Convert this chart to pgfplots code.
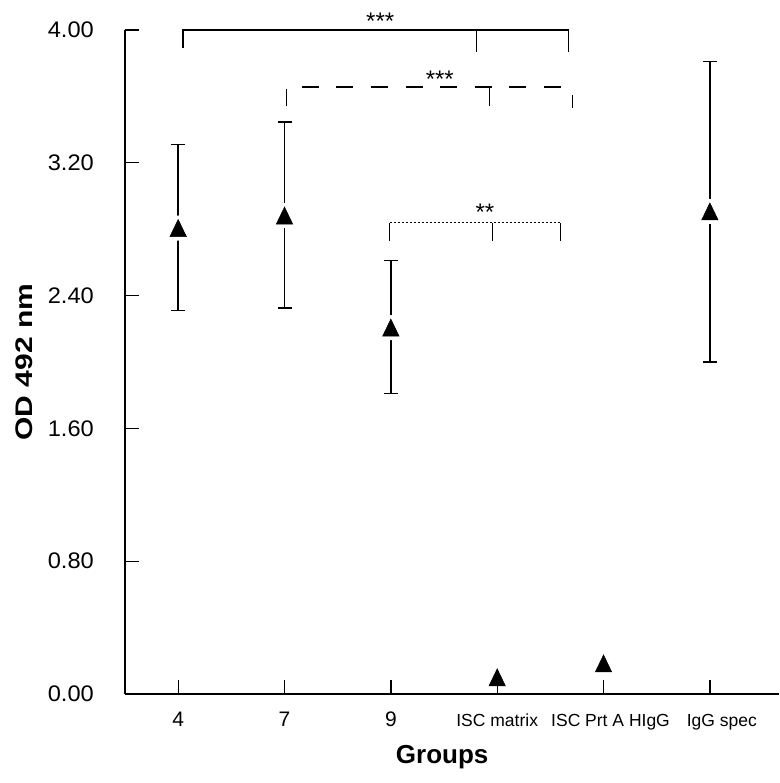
\documentclass[border=0pt]{standalone}
\usepackage{pgfplots}
\pgfplotsset{compat=1.18}
\usepackage{pgfplotstable}
\usepackage{fontspec}
\setmainfont{Liberation Sans}
\newfontfamily\ytickfont[FakeStretch=1.05]{Liberation Sans}
\newfontfamily\ylabfont[FakeStretch=1.25]{Liberation Sans}

\pgfplotstableread{
x y ep em
0 2.79 0.52 0.48
1 2.865 0.58 0.54
2 2.19 0.42 0.38
5 2.89 0.92 0.89
}\errtable
\pgfplotstableread{
x y
3 0.083
4 0.167
}\lowtable

\begin{document}
\begin{tikzpicture}
\begin{axis}[
  scale only axis, width=654bp, height=664bp,
  xmin=-0.5, xmax=5.65, ymin=0, ymax=4,
  axis lines*=left,
  axis line style={line width=1.3bp, black},
  every tick/.style={black, line width=1.3bp},
  major tick length=14bp, tick align=inside,
  xtick={0,1,2,3,4,5},
  xticklabels={{\fontsize{21bp}{21bp}\selectfont 4},
               {\fontsize{21bp}{21bp}\selectfont 7},
               {\fontsize{21bp}{21bp}\selectfont 9},
               {ISC matrix}, {\hspace*{14bp}ISC Prt A HIgG}, {\hspace*{24bp}IgG spec}},
  xticklabel style={font=\fontsize{17.5bp}{17.5bp}\selectfont, anchor=base, yshift=-32bp, inner sep=0pt},
  ytick={0,0.8,1.6,2.4,3.2,4.0},
  yticklabels={0.00,0.80,1.60,2.40,3.20,4.00},
  yticklabel style={font=\ytickfont\fontsize{22.5bp}{22.5bp}\selectfont, anchor=east, xshift=-31bp, inner sep=0pt},
  xlabel={Groups},
  xlabel style={font=\fontsize{26bp}{26bp}\selectfont\bfseries, at={([yshift=-69bp]axis description cs:0.485,0)}, anchor=base},
  ylabel={OD 492 nm},
  ylabel style={font=\ylabfont\fontsize{24bp}{24bp}\selectfont\bfseries, at={([xshift=-92bp]axis description cs:0,0.5)}, anchor=base, rotate=0},
  clip=false,
]
% error bars
\addplot[only marks, mark=none, error bars/.cd, y dir=both, y explicit,
  error bar style={draw=black, solid, line width=1.4bp},
  error mark options={rotate=90, mark size=7bp, line width=1.4bp, draw=black}]
  table[x=x, y=y, y error plus=ep, y error minus=em] {\errtable};
% white halo around markers
\addplot[only marks, mark=triangle*, mark size=9.5bp,
  mark options={yscale=1.2, fill=white, draw=white, line width=8bp, line join=round}]
  table[x=x, y=y] {\errtable};
% markers
\addplot[only marks, mark=triangle*, mark size=9.5bp,
  mark options={yscale=1.2, fill=black, draw=black, line width=0.5bp}]
  table[x=x, y=y] {\errtable};
\addplot[only marks, mark=triangle*, mark size=9.5bp,
  mark options={yscale=1.2, fill=black, draw=black, line width=0.5bp}]
  table[x=x, y=y] {\lowtable};

% solid bracket
\draw[line width=1.4bp] (axis cs:0.045,3.89) -- (axis cs:0.045,4.0) -- (axis cs:3.672,4.0) -- (axis cs:3.672,3.867);
\draw[line width=1.4bp] (axis cs:2.806,4.0) -- (axis cs:2.806,3.867);
\node[font=\fontsize{24bp}{24bp}\selectfont, anchor=base, inner sep=0pt] at (axis cs:1.90,4.0) {***};
% dashed bracket
\draw[line width=1.4bp, dash pattern=on 17bp off 17.6bp] (axis cs:1.02,3.54) -- (axis cs:1.02,3.657) -- (axis cs:3.6,3.657);
\draw[line width=1.4bp] (axis cs:2.79,3.657) -- (axis cs:2.93,3.657) -- (axis cs:2.93,3.54);
\draw[line width=1.4bp] (axis cs:3.71,3.608) -- (axis cs:3.71,3.53);
\node[font=\fontsize{24bp}{24bp}\selectfont, anchor=base, inner sep=0pt] at (axis cs:2.46,3.655) {***};
% dotted bracket
\draw[line width=1.4bp] (axis cs:1.99,2.728) -- (axis cs:1.99,2.839);
\draw[line width=1.4bp] (axis cs:2.955,2.728) -- (axis cs:2.955,2.839);
\draw[line width=1.4bp] (axis cs:3.597,2.728) -- (axis cs:3.597,2.839);
\draw[line width=1.1bp, dash pattern=on 2bp off 2bp] (axis cs:1.99,2.839) -- (axis cs:3.597,2.839);
\node[font=\fontsize{24bp}{24bp}\selectfont, anchor=base, inner sep=0pt] at (axis cs:2.885,2.855) {**};

\coordinate (bbsw) at ([shift={(-125bp,-89bp)}]axis description cs:0,0);
\coordinate (bbne) at ([shift={(0bp,30bp)}]axis description cs:1,1);
\end{axis}
\path (bbsw) rectangle (bbne);
\end{tikzpicture}
\end{document}
